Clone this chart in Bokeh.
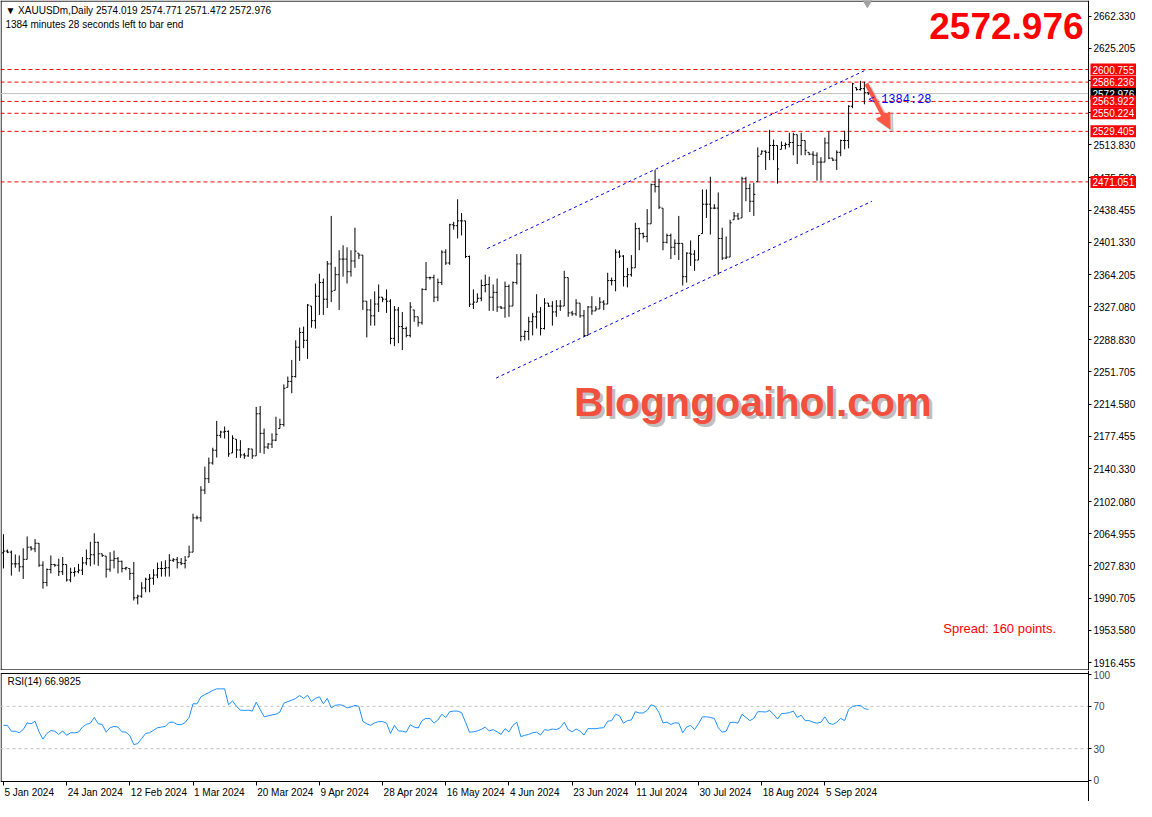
from bokeh.plotting import figure
from bokeh.layouts import column
from bokeh.models import (Range1d, FixedTicker, PrintfTickFormatter, Label,
                          ColumnDataSource, Arrow, NormalHead)
from bokeh.transform import dodge
from bokeh.embed import file_html
from bokeh.resources import INLINE

# ---------------- data (XAUUSDm, Daily) ----------------
opens = [
2043.0, 2045.0, 2043.8, 2030.3, 2030.3, 2026.9, 2035.5, 2049.5, 2047.6, 2054.0,
2028.7, 2008.8, 2023.8, 2029.5, 2028.7, 2021.2, 2029.5, 2011.7, 2020.4, 2021.2,
2023.0, 2031.4, 2036.3, 2040.8, 2055.1, 2041.9, 2039.3, 2024.1, 2034.4, 2036.3,
2033.2, 2025.0, 2025.0, 2019.3, 1991.1, 1993.0, 2002.4, 2012.5, 2013.7, 2017.4,
2025.0, 2025.0, 2025.8, 2034.4, 2035.1, 2031.7, 2030.6, 2038.2, 2043.8, 2083.4,
2083.4, 2115.4, 2128.6, 2146.7, 2161.4, 2178.6, 2182.4, 2183.2, 2158.3, 2174.1,
2161.7, 2156.0, 2154.9, 2162.8, 2154.9, 2203.5, 2180.9, 2165.1, 2168.5, 2173.0,
2186.5, 2191.1, 2234.0, 2240.8, 2246.4, 2280.3, 2297.3, 2288.3, 2327.8, 2310.9,
2339.1, 2354.9, 2335.7, 2376.4, 2345.9, 2364.0, 2382.0, 2382.0, 2367.4, 2379.8,
2388.8, 2386.6, 2333.4, 2323.3, 2316.5, 2330.1, 2338.0, 2335.7, 2333.4, 2290.5,
2323.3, 2304.1, 2301.8, 2293.9, 2323.3, 2315.4, 2308.6, 2347.0, 2360.6, 2360.6,
2338.0, 2355.0, 2390.0, 2377.5, 2421.6, 2420.5, 2426.1, 2426.1, 2385.0, 2330.0,
2332.3, 2336.8, 2351.5, 2352.7, 2338.0, 2343.6, 2326.7, 2325.5, 2350.4, 2327.8,
2354.9, 2376.4, 2292.8, 2298.4, 2309.7, 2315.4, 2321.0, 2301.8, 2331.2, 2327.8,
2321.0, 2327.8, 2327.8, 2360.6, 2319.9, 2318.8, 2331.2, 2316.5, 2293.9, 2326.7,
2322.2, 2324.4, 2332.3, 2330.1, 2357.2, 2357.2, 2390.0, 2385.4, 2361.7, 2364.0,
2371.9, 2417.1, 2411.4, 2408.1, 2422.7, 2467.9, 2465.7, 2440.8, 2401.3, 2409.2,
2395.6, 2400.1, 2400.1, 2361.7, 2388.8, 2387.7, 2380.9, 2411.4, 2445.3, 2445.3,
2440.8, 2440.8, 2405.8, 2383.2, 2384.3, 2427.3, 2431.8, 2429.5, 2474.7, 2463.4,
2448.7, 2471.3, 2503.0, 2506.4, 2505.2, 2513.1, 2513.1, 2508.6, 2513.1, 2514.3,
2516.5, 2525.6, 2513.1, 2518.8, 2505.2, 2503.0, 2501.8, 2493.9, 2493.9, 2516.0,
2498.5, 2496.2, 2505.2, 2518.8, 2518.8, 2558.4, 2579.8, 2577.6, 2578.7, 2574.019]

highs = [
2064.5, 2046.8, 2045.6, 2041.1, 2040.0, 2048.3, 2061.9, 2050.6, 2058.9, 2054.3,
2033.2, 2025.0, 2040.0, 2030.3, 2036.3, 2038.2, 2029.5, 2025.8, 2026.4, 2030.3,
2038.2, 2046.8, 2055.8, 2065.6, 2055.8, 2041.9, 2039.3, 2043.8, 2045.6, 2038.2,
2034.0, 2026.9, 2025.0, 2032.5, 1994.8, 2009.1, 2014.4, 2018.5, 2024.1, 2031.7,
2033.2, 2034.4, 2041.5, 2037.0, 2038.2, 2037.0, 2039.3, 2051.3, 2088.2, 2086.0,
2119.9, 2142.5, 2153.0, 2164.3, 2195.3, 2183.9, 2188.8, 2184.3, 2178.6, 2174.1,
2173.0, 2158.3, 2164.0, 2162.8, 2211.4, 2212.5, 2186.5, 2169.6, 2180.9, 2200.1,
2197.8, 2237.4, 2246.4, 2265.6, 2288.3, 2302.9, 2304.1, 2330.1, 2327.8, 2353.8,
2365.1, 2359.5, 2379.8, 2431.8, 2373.0, 2392.2, 2397.9, 2395.6, 2392.2, 2418.2,
2388.8, 2386.6, 2333.4, 2335.7, 2344.8, 2352.7, 2338.0, 2347.0, 2335.7, 2327.8,
2326.7, 2321.0, 2304.1, 2332.3, 2323.3, 2315.4, 2348.2, 2378.6, 2361.7, 2364.0,
2359.5, 2392.2, 2393.3, 2422.7, 2425.0, 2451.0, 2435.2, 2426.1, 2386.0, 2347.0,
2342.5, 2358.3, 2364.0, 2361.7, 2352.7, 2359.5, 2327.8, 2356.1, 2352.7, 2356.1,
2387.7, 2387.7, 2299.5, 2315.4, 2319.9, 2341.4, 2326.7, 2336.8, 2331.2, 2333.4,
2334.6, 2334.6, 2368.5, 2360.6, 2322.2, 2335.7, 2331.2, 2323.3, 2327.8, 2339.1,
2327.8, 2338.0, 2334.6, 2366.2, 2360.6, 2393.3, 2392.2, 2386.6, 2371.9, 2386.6,
2423.9, 2418.2, 2412.6, 2439.7, 2469.1, 2484.9, 2474.7, 2440.8, 2411.4, 2411.4,
2404.7, 2431.8, 2400.1, 2389.9, 2403.5, 2392.2, 2409.2, 2462.3, 2462.3, 2477.0,
2445.3, 2458.9, 2418.2, 2408.1, 2427.3, 2436.3, 2435.2, 2477.0, 2477.0, 2469.1,
2470.2, 2510.9, 2507.5, 2507.5, 2531.2, 2519.9, 2513.1, 2517.7, 2516.5, 2527.8,
2527.8, 2525.6, 2527.8, 2518.8, 2505.2, 2506.4, 2505.2, 2499.6, 2522.2, 2529.0,
2498.5, 2507.5, 2519.9, 2530.1, 2559.5, 2585.5, 2579.8, 2587.7, 2586.6, 2574.771]

lows = [
2025.0, 2042.7, 2016.7, 2025.8, 2021.2, 2012.9, 2035.5, 2045.6, 2043.8, 2026.9,
2001.6, 2004.3, 2019.3, 2026.9, 2016.3, 2017.4, 2009.9, 2009.1, 2015.6, 2019.3,
2017.4, 2028.7, 2027.6, 2029.5, 2028.0, 2038.2, 2014.4, 2021.2, 2025.0, 2019.3,
2020.4, 2023.0, 2011.7, 1988.0, 1983.5, 1991.1, 1997.5, 1997.5, 2006.1, 2013.7,
2015.6, 2015.6, 2015.6, 2032.5, 2025.0, 2028.7, 2025.0, 2038.2, 2043.8, 2081.5,
2078.9, 2110.8, 2123.6, 2144.8, 2153.0, 2175.6, 2174.9, 2153.8, 2158.3, 2152.6,
2152.6, 2151.5, 2153.8, 2151.5, 2154.9, 2158.3, 2157.2, 2162.8, 2164.0, 2171.9,
2186.5, 2188.8, 2234.0, 2227.2, 2245.3, 2264.5, 2279.2, 2266.8, 2302.9, 2301.8,
2317.6, 2317.6, 2325.6, 2332.3, 2345.9, 2323.3, 2361.7, 2353.8, 2361.7, 2371.9,
2382.0, 2323.3, 2291.6, 2305.2, 2305.2, 2321.0, 2332.3, 2319.9, 2283.7, 2281.5,
2284.9, 2277.0, 2291.6, 2291.6, 2309.7, 2304.1, 2306.3, 2345.9, 2358.3, 2332.3,
2333.4, 2352.0, 2375.3, 2375.3, 2416.0, 2405.8, 2409.2, 2383.2, 2326.7, 2324.4,
2332.3, 2333.4, 2343.6, 2322.2, 2322.2, 2321.0, 2324.4, 2314.3, 2315.4, 2327.8,
2352.7, 2287.1, 2288.3, 2288.3, 2293.9, 2301.8, 2293.9, 2300.7, 2326.7, 2305.2,
2315.4, 2322.2, 2327.8, 2315.4, 2316.5, 2316.5, 2314.3, 2292.8, 2293.9, 2317.6,
2322.2, 2324.4, 2323.3, 2330.1, 2351.5, 2344.8, 2383.2, 2350.4, 2349.3, 2361.7,
2371.9, 2392.2, 2405.8, 2401.3, 2422.7, 2458.9, 2439.7, 2392.2, 2400.1, 2382.0,
2386.6, 2380.9, 2351.5, 2354.9, 2374.1, 2368.5, 2380.9, 2411.4, 2429.5, 2410.3,
2439.7, 2364.0, 2380.9, 2382.0, 2384.3, 2427.3, 2427.3, 2429.5, 2448.7, 2436.3,
2431.8, 2471.3, 2503.0, 2484.9, 2496.2, 2496.2, 2469.1, 2508.6, 2508.6, 2510.9,
2501.8, 2491.7, 2501.8, 2501.8, 2501.8, 2490.5, 2472.5, 2472.5, 2493.9, 2497.3,
2495.1, 2484.9, 2500.7, 2508.6, 2509.8, 2556.1, 2576.4, 2576.4, 2560.6, 2571.472]

closes = [
2045.0, 2043.8, 2030.3, 2030.3, 2026.9, 2035.5, 2049.5, 2047.6, 2054.0, 2028.7,
2008.8, 2023.8, 2029.5, 2028.7, 2021.2, 2029.5, 2011.7, 2020.4, 2021.2, 2023.0,
2031.4, 2036.3, 2040.8, 2055.1, 2041.9, 2040.0, 2024.1, 2034.4, 2036.3, 2033.2,
2025.0, 2025.8, 2019.3, 1991.1, 1993.0, 2002.4, 2012.5, 2013.7, 2017.4, 2025.0,
2025.0, 2025.8, 2034.4, 2035.1, 2031.7, 2030.6, 2034.4, 2043.8, 2083.4, 2083.4,
2115.4, 2128.6, 2146.7, 2161.4, 2178.6, 2182.4, 2183.2, 2157.2, 2175.2, 2161.7,
2156.0, 2154.9, 2162.8, 2154.9, 2203.5, 2180.9, 2165.1, 2168.5, 2173.0, 2179.8,
2191.1, 2232.9, 2240.8, 2246.4, 2280.3, 2297.3, 2288.3, 2328.9, 2310.9, 2339.1,
2354.9, 2335.7, 2376.4, 2344.8, 2364.0, 2382.0, 2382.0, 2367.4, 2379.8, 2391.1,
2386.6, 2333.4, 2323.3, 2316.5, 2330.1, 2338.0, 2335.7, 2333.4, 2290.5, 2323.3,
2304.1, 2301.8, 2293.9, 2326.7, 2315.4, 2308.6, 2347.0, 2360.6, 2360.6, 2338.0,
2355.0, 2390.0, 2377.5, 2421.6, 2420.5, 2426.1, 2426.1, 2385.0, 2330.0, 2332.3,
2336.8, 2351.5, 2352.7, 2338.0, 2343.6, 2326.7, 2325.5, 2350.4, 2327.8, 2354.9,
2376.4, 2292.8, 2298.4, 2309.7, 2315.4, 2321.0, 2301.8, 2331.2, 2327.8, 2321.0,
2327.8, 2327.8, 2360.6, 2319.9, 2318.8, 2331.2, 2316.5, 2293.9, 2326.7, 2322.2,
2324.4, 2332.3, 2330.1, 2357.2, 2357.2, 2390.0, 2385.4, 2361.7, 2364.0, 2371.9,
2417.1, 2411.4, 2408.1, 2422.7, 2467.9, 2465.7, 2441.9, 2401.3, 2409.2, 2395.6,
2400.1, 2400.1, 2361.7, 2388.8, 2387.7, 2380.9, 2409.2, 2445.3, 2445.3, 2440.8,
2440.8, 2405.8, 2383.2, 2384.3, 2423.9, 2431.8, 2428.4, 2474.7, 2463.4, 2448.7,
2456.6, 2500.7, 2506.4, 2505.2, 2513.1, 2513.1, 2486.0, 2513.1, 2514.3, 2516.5,
2525.6, 2513.1, 2518.8, 2507.5, 2503.0, 2501.8, 2493.9, 2493.9, 2516.0, 2498.5,
2496.2, 2505.2, 2518.8, 2518.8, 2558.4, 2584.3, 2577.6, 2578.7, 2574.0, 2572.976]

rsi = [
52.0, 52.0, 46.5, 46.5, 45.0, 48.0, 54.4, 53.5, 55.9, 45.9,
39.0, 44.4, 47.1, 46.5, 43.5, 46.8, 42.6, 45.0, 45.0, 45.6,
50.4, 52.9, 54.1, 59.5, 53.5, 52.9, 45.6, 49.8, 51.0, 50.4,
45.9, 45.6, 42.3, 33.9, 34.8, 39.6, 44.4, 45.0, 47.4, 49.8,
50.4, 51.0, 55.0, 55.0, 52.9, 52.6, 54.7, 59.5, 72.4, 72.4,
79.0, 81.1, 82.9, 85.0, 86.5, 86.5, 86.5, 71.5, 75.1, 70.0,
66.4, 66.1, 66.4, 65.5, 73.9, 67.0, 60.1, 61.0, 61.9, 62.5,
64.6, 73.0, 74.5, 75.7, 77.5, 80.2, 77.5, 80.5, 74.5, 77.5,
79.0, 72.4, 77.5, 68.5, 70.9, 71.5, 70.9, 68.5, 69.4, 70.9,
70.0, 55.9, 53.5, 52.0, 54.4, 55.6, 55.6, 54.1, 44.4, 52.0,
46.8, 46.5, 45.6, 52.6, 50.4, 49.5, 56.5, 58.6, 58.6, 54.1,
57.1, 62.5, 59.5, 64.9, 65.5, 65.5, 64.0, 55.0, 45.6, 45.9,
46.8, 48.3, 50.4, 46.8, 48.0, 45.9, 43.5, 48.9, 45.9, 52.0,
55.0, 41.4, 42.6, 43.5, 45.0, 45.6, 42.9, 48.0, 47.4, 48.6,
48.0, 49.8, 55.0, 48.0, 45.9, 48.6, 46.5, 42.9, 48.9, 48.9,
48.9, 49.5, 49.8, 55.9, 56.5, 62.5, 61.0, 54.1, 56.5, 57.1,
64.9, 63.7, 63.7, 66.1, 71.5, 70.0, 64.0, 54.4, 55.0, 52.9,
54.4, 54.1, 45.0, 50.4, 52.0, 48.0, 53.5, 60.1, 60.1, 59.5,
58.6, 49.8, 45.6, 46.5, 54.7, 55.0, 54.1, 62.5, 59.5, 56.5,
58.6, 64.9, 64.9, 64.6, 66.1, 62.5, 58.0, 63.1, 63.4, 64.0,
65.5, 59.5, 61.6, 56.5, 56.5, 55.0, 54.1, 55.0, 60.1, 54.1,
52.9, 55.0, 58.6, 56.5, 67.0, 70.0, 70.6, 70.9, 67.9, 66.98]

bar_index = list(range(len(closes)))

price_tick_labels = ["1916.455", "1953.580", "1990.705", "2027.830", "2064.955",
                     "2102.080", "2140.330", "2177.455", "2214.580", "2251.705",
                     "2288.830", "2327.080", "2364.205", "2401.330", "2438.455",
                     "2475.580", "2513.830", "2550.955", "2588.080", "2625.205",
                     "2662.330"]
level_prices = [2600.755, 2586.236, 2563.922, 2550.224, 2529.405, 2471.051]
level_labels = ["2600.755", "2586.236", "2563.922", "2550.224", "2529.405", "2471.051"]
bid_price = 2572.976
bid_label = "2572.976"

date_tick_index = [0, 16, 32, 48, 64, 80, 96, 112, 128, 144, 160, 176, 192, 208]
date_labels = ["5 Jan 2024", "24 Jan 2024", "12 Feb 2024", "1 Mar 2024", "20 Mar 2024",
               "9 Apr 2024", "28 Apr 2024", "16 May 2024", "4 Jun 2024", "23 Jun 2024",
               "11 Jul 2024", "30 Jul 2024", "18 Aug 2024", "5 Sep 2024"]
rsi_ticks = [0, 30, 70, 100]
rsi_levels = [70, 30]

# hand-drawn channel (bar index, price)
chan_upper_x = [122.5, 218.0]
chan_upper_y = [2394.1, 2599.4]
chan_lower_x = [124.75, 219.9]
chan_lower_y = [2244.7, 2448.7]

# ---------------- geometry / placement helpers ----------------
FONT = "Liberation Sans"
W = 1136
MAIN_H = 670
RSI_H = 131

def bx(px):            # reference pixel x -> bar index
    return (px - 3.0) / 4.0
def py(px):            # reference pixel y -> price
    return 2680.4 - 1.1301 * px

X0 = -0.75
X_AX = 274.75                       # where the price scale line sits
U_PER_PX = (X_AX - X0) / 1088.0     # 1088 px of chart area left of the scale
X1 = X0 + W * U_PER_PX
x_range = Range1d(X0, X1)

Y1 = py(0)
MU = (Y1 - 1916.455) / 662.0        # price units per pixel
Y0 = Y1 - MAIN_H * MU
YB = Y1 - 669.4 * MU                # bottom frame line

# ---------------- main price panel ----------------
p = figure(width=W, height=MAIN_H, x_range=x_range, y_range=Range1d(Y0, Y1),
           output_backend="svg", toolbar_location=None,
           x_axis_location=None, y_axis_location="right",
           min_border_left=0, min_border_right=0, min_border_top=0, min_border_bottom=0,
           background_fill_color="white", border_fill_color="white",
           outline_line_color=None)
p.grid.visible = False
ya = p.yaxis[0]
ya.fixed_location = X_AX
ya.ticker = FixedTicker(ticks=[float(t) for t in price_tick_labels])
ya.formatter = PrintfTickFormatter(format="%.3f")
ya.major_tick_out = 3
ya.major_tick_in = 0
ya.minor_tick_line_color = None
ya.axis_line_color = "black"
ya.major_label_text_font = FONT
ya.major_label_text_font_size = "10px"
ya.major_label_text_color = "black"
ya.major_label_standoff = 2

# chart frame (left, top, bottom) up to the price scale
p.segment(x0=[X0 + 0.6 * U_PER_PX, X0, X0], y0=[YB, Y1 - 0.6 * MU, YB],
          x1=[X0 + 0.6 * U_PER_PX, X_AX, X_AX], y1=[Y1, Y1 - 0.6 * MU, YB],
          line_color="black", line_width=1)

# bid line and support / resistance levels (up to the scale)
p.segment(x0=[X0], y0=[bid_price], x1=[X_AX], y1=[bid_price], line_color="#c0c0c0", line_width=1)
p.segment(x0=[X0] * len(level_prices), y0=level_prices,
          x1=[X_AX] * len(level_prices), y1=level_prices,
          line_color="#ff0000", line_dash="4 3", line_width=1)

# channel
p.line(chan_upper_x, chan_upper_y, line_color="#0000ff", line_dash="3 3", line_width=1)
p.line(chan_lower_x, chan_lower_y, line_color="#0000ff", line_dash="3 3", line_width=1)

# OHLC bars
src = ColumnDataSource(dict(x=bar_index, o=opens, h=highs, l=lows, c=closes))
p.segment(x0="x", y0="l", x1="x", y1="h", source=src, line_color="black", line_width=1)
p.segment(x0=dodge("x", -0.4), y0="o", x1="x", y1="o", source=src,
          line_color="black", line_width=1)
p.segment(x0="x", y0="c", x1=dodge("x", 0.4), y1="c", source=src,
          line_color="black", line_width=1)

# chart-shift marker
p.scatter([bx(878)], [py(2)], marker="inverted_triangle", size=9,
          fill_color="#a0a0a0", line_color="#a0a0a0")

# red arrow with soft shadow
p.add_layout(Arrow(end=NormalHead(size=17, fill_color="#9a9a9a", line_color="#9a9a9a",
                                  fill_alpha=0.45, line_alpha=0.45),
                   x_start=bx(880), y_start=py(89), x_end=bx(904), y_end=py(134),
                   line_color="#9a9a9a", line_alpha=0.45, line_width=5))
p.add_layout(Arrow(end=NormalHead(size=15, fill_color="#ff5544", line_color="#ff5544"),
                   x_start=bx(877), y_start=py(85), x_end=bx(901), y_end=py(131),
                   line_color="#ff5544", line_width=4))

# texts inside the price panel
p.add_layout(Label(x=bx(5), y=py(10), text="\u25bc XAUUSDm,Daily  2574.019 2574.771 2571.472 2572.976",
                   text_font=FONT, text_font_size="10px", text_color="black",
                   text_baseline="middle", text_align="left"))
p.add_layout(Label(x=bx(5), y=py(24), text="1384 minutes 28 seconds left to bar end",
                   text_font=FONT, text_font_size="10px", text_color="black",
                   text_baseline="middle", text_align="left"))
p.add_layout(Label(x=bx(1097), y=py(26), text=bid_label,
                   text_font=FONT, text_font_size="37px", text_font_style="bold",
                   text_color="#ff0000", text_baseline="middle", text_align="right"))
p.add_layout(Label(x=bx(762), y=py(410), x_offset=3, y_offset=-3, text="Blogngoaihol.com",
                   text_font=FONT, text_font_size="41px", text_font_style="bold",
                   text_color="#808080", text_alpha=0.5,
                   text_baseline="middle", text_align="center"))
p.add_layout(Label(x=bx(762), y=py(410), text="Blogngoaihol.com",
                   text_font=FONT, text_font_size="41px", text_font_style="bold",
                   text_color="#f2503f", text_baseline="middle", text_align="center"))
p.add_layout(Label(x=bx(1012), y=py(641), text="Spread: 160 points.",
                   text_font=FONT, text_font_size="13px", text_color="#ff0000",
                   text_baseline="middle", text_align="center"))
p.add_layout(Label(x=bx(879), y=py(102), text="<",
                   text_font="Liberation Mono", text_font_size="11px", text_color="#0000ff",
                   text_baseline="middle", text_align="left"))
p.add_layout(Label(x=bx(892), y=py(102), text="1384:28",
                   text_font="Liberation Mono", text_font_size="12px", text_color="#0000ff",
                   text_baseline="middle", text_align="left"))

# price tags on the scale
p.add_layout(Label(x=X_AX, y=bid_price, x_offset=2, text=bid_label,
                   text_font=FONT, text_font_size="10px", text_color="white",
                   background_fill_color="black", padding=2,
                   text_baseline="middle", text_align="left"))
for lv, lab in zip(level_prices, level_labels):
    p.add_layout(Label(x=X_AX, y=lv, x_offset=2, text=lab,
                       text_font=FONT, text_font_size="10px", text_color="white",
                       background_fill_color="#ff0000", padding=2,
                       text_baseline="middle", text_align="left"))

# ---------------- RSI panel ----------------
RU = 102.0 / 108.0                  # RSI units per pixel (108 px for -1..101)
RY1 = 101.0 + 3 * RU
RY0 = RY1 - RSI_H * RU
r = figure(width=W, height=RSI_H, x_range=x_range, y_range=Range1d(RY0, RY1),
           output_backend="svg", toolbar_location=None,
           y_axis_location="right", x_axis_location="below",
           min_border_left=0, min_border_right=0, min_border_top=0, min_border_bottom=0,
           background_fill_color="white", border_fill_color="white",
           outline_line_color=None)
r.grid.visible = False
ra = r.yaxis[0]
ra.fixed_location = X_AX
ra.ticker = FixedTicker(ticks=rsi_ticks)
ra.formatter = PrintfTickFormatter(format="%d")
ra.major_tick_out = 3
ra.major_tick_in = 0
ra.minor_tick_line_color = None
ra.axis_line_color = "black"
ra.major_label_text_font = FONT
ra.major_label_text_font_size = "10px"
ra.major_label_standoff = 2

xa = r.xaxis[0]
xa.fixed_location = -1
xa.ticker = FixedTicker(ticks=date_tick_index)
xa.major_label_text_color = None
xa.major_tick_out = 4
xa.major_tick_in = 0
xa.minor_tick_line_color = None
xa.axis_line_color = None

# RSI frame
r.segment(x0=[X0 + 0.6 * U_PER_PX, X0, X0], y0=[-1, 101, -1],
          x1=[X0 + 0.6 * U_PER_PX, X_AX, X_AX], y1=[101, 101, -1],
          line_color="black", line_width=1)

r.segment(x0=[X0] * len(rsi_levels), y0=rsi_levels, x1=[X_AX] * len(rsi_levels), y1=rsi_levels,
          line_color="#c0c0c0", line_dash="3 3", line_width=1)
r.line(bar_index, rsi, line_color="#1e90ff", line_width=1)

r.add_layout(Label(x=bx(7), y=93.0, text="RSI(14) 66.9825",
                   text_font=FONT, text_font_size="10px", text_color="black",
                   text_baseline="middle", text_align="left"))

for ti, lab in zip(date_tick_index, date_labels):
    r.add_layout(Label(x=ti, y=-1, x_offset=1, y_offset=-5, text=lab,
                       text_font=FONT, text_font_size="10px", text_color="black",
                       text_baseline="top", text_align="left"))

layout = column(p, r, spacing=0)
open("out.html", "w").write(file_html(layout, INLINE, title="XAUUSDm Daily"))
